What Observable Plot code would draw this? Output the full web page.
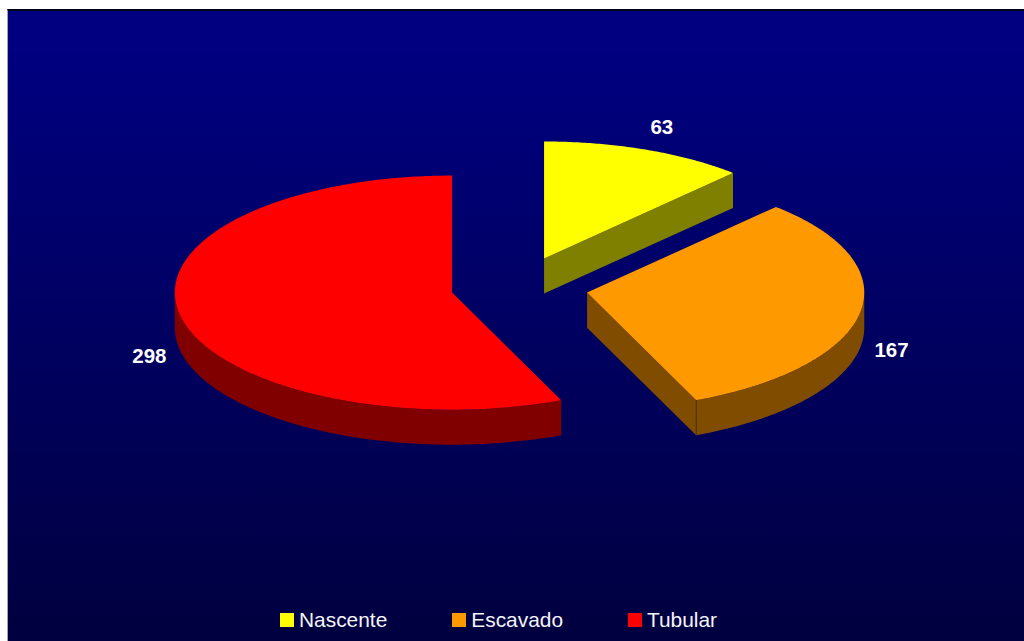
<!DOCTYPE html>
<html>
<head>
<meta charset="utf-8">
<script src="https://cdn.jsdelivr.net/npm/d3@7"></script>
<script src="https://cdn.jsdelivr.net/npm/@observablehq/plot@0.6"></script>
<style>
  html, body { margin: 0; padding: 0; background: #fff; overflow: hidden; }
  #frame {
    position: absolute; left: 7px; top: 9px; width: 1017px; height: 632px; box-sizing: border-box;
    border-left: 1px solid #a8a498; border-top: 2px solid #00001a;
    background: linear-gradient(#000080 0%, #000080 6%, #00003f 100%);
    font-family: "Liberation Sans", Arial, sans-serif;
  }
  #chart { margin-top: -1px; }
  #frame svg { display: block; background: transparent; }
  #legend {
    display: flex; gap: 65px; position: absolute; left: 272px; top: 595px;
    color: #f4f4f8; font-size: 20.9px; line-height: 28px;
  }
  .item { display: flex; align-items: center; gap: 5px; }
  .swatch { width: 14px; height: 14px; display: inline-block; }
</style>
</head>
<body>
<div id="frame"><div id="chart"></div><div id="legend"></div></div>
<script>
const categories = ["Nascente", "Escavado", "Tubular"];
const values = [63, 167, 298];
const topColors = ["#ffff00", "#ff9900", "#ff0000"];
const sideColors = ["#808000", "#804d00", "#800000"];
const explodeU = [0.332, 0.487, 0];
const explodeV = [0.291, 0, 0];
const labelRadius = [1.16, 1.115, 1.1145];
const labelLift = [0.04, -0.304, -0.324];
const depth = 0.299; // slab thickness, in pie radii

const total = d3.sum(values);
let running = 0;
const slices = categories.map((name, i) => {
  const start = running / total * 2 * Math.PI;
  running += values[i];
  const end = running / total * 2 * Math.PI;
  return {name, value: values[i], start, end, du: explodeU[i], dv: explodeV[i], i};
});

const at = (s, a, drop = 0) => ({u: s.du + Math.sin(a), v: s.dv + Math.cos(a) - drop});
const arc = (s, a0, a1, drop = 0) => {
  const n = Math.max(2, Math.ceil((a1 - a0) / (Math.PI / 360)));
  return d3.range(n + 1).map(k => at(s, a0 + (a1 - a0) * k / n, drop));
};
const polys = [];
const add = (face, color, pts) => pts.forEach(p => polys.push({...p, face, color}));

slices.forEach(s => {
  const centre = {u: s.du, v: s.dv};
  const centreLow = {u: s.du, v: s.dv - depth};
  // cut face at the slice's clockwise end, seen when it points to the viewer
  if (s.end < Math.PI) {
    add(`${s.name}-cut`, sideColors[s.i], [centre, at(s, s.end), at(s, s.end, depth), centreLow]);
  }
  // outer rim, front half only
  const a0 = Math.max(s.start, Math.PI / 2), a1 = Math.min(s.end, 3 * Math.PI / 2);
  if (a1 > a0) {
    add(`${s.name}-rim`, sideColors[s.i], [...arc(s, a0, a1), ...arc(s, a0, a1, depth).reverse()]);
  }
  add(`${s.name}-top`, topColors[s.i], [centre, ...arc(s, s.start, s.end)]);
});

const escavado = slices[1];
const edge = [at(escavado, escavado.end), at(escavado, escavado.end, depth)];

const labels = slices.map((s, i) => {
  const mid = (s.start + s.end) / 2;
  return {
    value: s.value,
    u: s.du + labelRadius[i] * Math.sin(mid),
    v: s.dv + labelRadius[i] * Math.cos(mid) + labelLift[i]
  };
});

const plot = Plot.plot({
  width: 1016, height: 590,
  margin: 0,
  x: {axis: null, domain: [-1.6, 2.065], range: [0, 1016]},
  y: {axis: null, domain: [-2.63, 2.41], range: [590, 0]},
  color: {type: "identity"},
  style: {background: "transparent"},
  marks: [
    Plot.line(polys, {x: "u", y: "v", z: "face", fill: "color", stroke: "none", curve: "linear"}),
    Plot.line(edge, {x: "u", y: "v", stroke: "#4d2e00", strokeWidth: 1}),
    Plot.text(labels, {
      x: "u", y: "v", text: d => String(d.value), fill: "#fff",
      fontSize: 20.5, fontWeight: "bold", fontFamily: "'Liberation Sans', Arial, sans-serif"
    })
  ]
});
document.getElementById("chart").append(plot);

const legend = document.getElementById("legend");
categories.forEach((c, i) => {
  const item = document.createElement("span");
  item.className = "item";
  const sw = document.createElement("span");
  sw.className = "swatch";
  sw.style.background = topColors[i];
  item.append(sw, document.createTextNode(c));
  legend.append(item);
});
</script>
</body>
</html>
